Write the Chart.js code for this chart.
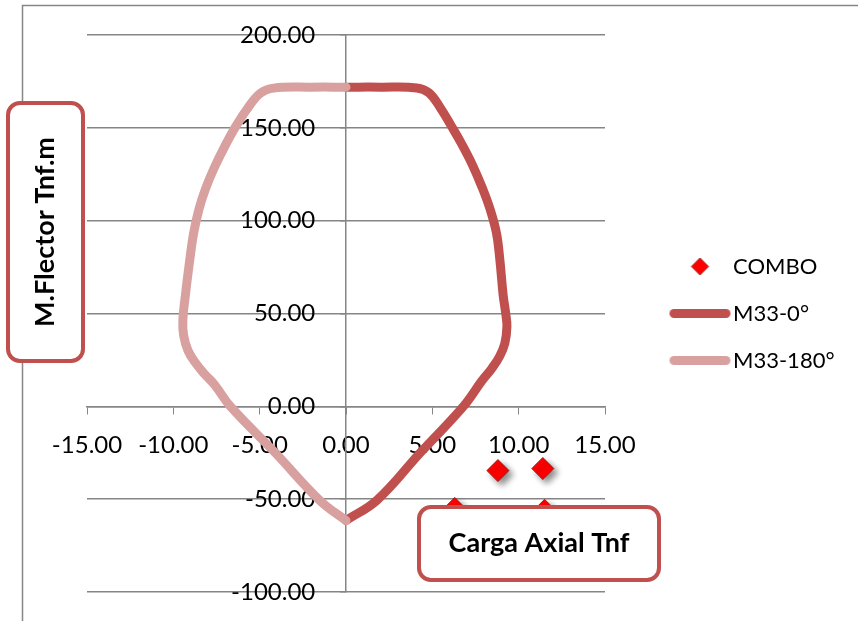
<!DOCTYPE html>
<html>
<head>
<meta charset="utf-8">
<script src="https://cdn.jsdelivr.net/npm/chart.js@4.4.1/dist/chart.umd.min.js"></script>
<style>
  html, body { margin: 0; padding: 0; background: #fff; }
  canvas { display: block; }
</style>
</head>
<body>
<canvas id="pm-chart" width="858" height="621"></canvas>
<script>
// axis ticks
var xTickValues = [-15, -10, -5, 0, 5, 10, 15];
var yTickValues = [-100, -50, 0, 50, 100, 150, 200];

// load combinations (axial, moment)
var comboAxial = [8.8, 11.4, 6.3, 11.5];
var comboMoment = [-34.6, -33.5, -55, -56];

// interaction curve M33-0°
var m0Axial = [0, 2, 4.1, 4.8, 5.45, 6.1, 6.72, 7.3, 7.88, 8.35, 8.72, 8.92, 9.1, 9.25, 9.32, 9.2, 8.9, 8.45, 7.85, 6.8, 4.3, 1.8, 0];
var m0Moment = [171.9, 171.9, 171.5, 168.9, 161, 151, 141, 130.5, 118, 106, 93, 78, 60, 50, 43, 34, 27, 20.5, 13.5, 0, -25, -50.5, -61.5];

// interaction curve M33-180°
var m180Axial = [0, -2, -4.19, -4.96, -5.7, -6.4, -7.05, -7.63, -8.13, -8.52, -8.83, -9.06, -9.3, -9.45, -9.4, -9.15, -8.73, -8.2, -7.6, -6.7, -4.1, -1.5, 0];
var m180Moment = [171.9, 171.9, 171.4, 168.6, 160.5, 150.5, 139.5, 128.5, 117.3, 106, 93, 78, 60, 46, 38, 30, 23.6, 17.5, 11.5, 0, -25, -50.8, -61.5];

var seriesNames = ['COMBO', 'M33-0°', 'M33-180°'];
var seriesColors = ['#FF0000', '#C0504D', '#D8A1A0'];

var FONT = 'Lato';
var FONT_SIZE = 22;
var TICK_SIZE = 24;
var AXIS_GREY = '#868686';

function toPoints(xs, ys) {
    var pts = [];
    for (var i = 0; i < xs.length; i++) {
        pts.push({ x: xs[i], y: ys[i] });
    }
    return pts;
}

// legend markers, drawn a bit right of the box centre
function makeMarker(kind, color) {
    var c = document.createElement('canvas');
    c.width = 121;
    c.height = 25;
    var g = c.getContext('2d');
    var cx = 60.5 + 24, cy = 12.5;
    if (kind === 'diamond') {
        g.beginPath();
        g.moveTo(cx, cy - 8.5);
        g.lineTo(cx + 8.5, cy);
        g.lineTo(cx, cy + 8.5);
        g.lineTo(cx - 8.5, cy);
        g.closePath();
        g.fillStyle = color;
        g.fill();
        g.strokeStyle = '#A01818';
        g.lineWidth = 1;
        g.stroke();
    } else {
        g.beginPath();
        g.moveTo(cx - 26, cy);
        g.lineTo(cx + 26, cy);
        g.strokeStyle = color;
        g.lineWidth = 9;
        g.lineCap = 'round';
        g.stroke();
    }
    return c;
}

var legendMarkers = [
    makeMarker('diamond', seriesColors[0]),
    makeMarker('line', seriesColors[1]),
    makeMarker('line', seriesColors[2])
];

// right padding so the plot ends at x = 605
var mctx = document.createElement('canvas').getContext('2d');
mctx.font = 'normal ' + FONT_SIZE + 'px ' + FONT;
var maxText = 0;
seriesNames.forEach(function (t) { maxText = Math.max(maxText, mctx.measureText(t).width); });
var legendWidth = 25 + 92 + FONT_SIZE / 2 + maxText + 10;
var padRight = Math.max(0, 858 - 605 - legendWidth);

function roundBox(ctx, x, y, w, h, r) {
    ctx.beginPath();
    ctx.moveTo(x + r, y);
    ctx.lineTo(x + w - r, y);
    ctx.arcTo(x + w, y, x + w, y + r, r);
    ctx.lineTo(x + w, y + h - r);
    ctx.arcTo(x + w, y + h, x + w - r, y + h, r);
    ctx.lineTo(x + r, y + h);
    ctx.arcTo(x, y + h, x, y + h - r, r);
    ctx.lineTo(x, y + r);
    ctx.arcTo(x, y, x + r, y, r);
    ctx.closePath();
}

function drawTitleBox(ctx, x, y, w, h, text, vertical) {
    ctx.save();
    roundBox(ctx, x, y, w, h, 12);
    ctx.fillStyle = '#fff';
    ctx.fill();
    ctx.strokeStyle = '#C0504D';
    ctx.lineWidth = 4;
    ctx.stroke();
    ctx.fillStyle = '#000';
    ctx.font = 'bold 27px ' + FONT;
    ctx.textAlign = 'center';
    ctx.textBaseline = 'middle';
    ctx.translate(x + w / 2, y + h / 2);
    if (vertical) {
        ctx.rotate(-Math.PI / 2);
    }
    ctx.fillText(text, 0, 0);
    ctx.restore();
}

var chartFrame = {
    id: 'chartFrame',
    beforeDraw: function (chart) {
        var ctx = chart.ctx;
        ctx.save();
        ctx.strokeStyle = AXIS_GREY;
        ctx.lineWidth = 1.5;
        ctx.strokeRect(22.5, 5.5, 900, 700);
        ctx.restore();
    }
};

var markerShadow = {
    id: 'markerShadow',
    beforeDatasetDraw: function (chart, args) {
        if (args.index !== 0) return;
        var ctx = chart.ctx;
        ctx.save();
        ctx.shadowColor = 'rgba(0,0,0,0.45)';
        ctx.shadowBlur = 6;
        ctx.shadowOffsetX = 4;
        ctx.shadowOffsetY = 4;
    },
    afterDatasetDraw: function (chart, args) {
        if (args.index === 0) chart.ctx.restore();
    }
};

var titleBoxes = {
    id: 'titleBoxes',
    afterDraw: function (chart) {
        var ctx = chart.ctx;
        drawTitleBox(ctx, 8, 103, 75, 258, 'M.Flector Tnf.m', true);
        drawTitleBox(ctx, 419, 507, 240, 73, 'Carga Axial Tnf', false);
    }
};

Chart.defaults.font.family = FONT;
Chart.defaults.font.size = FONT_SIZE;
Chart.defaults.color = '#000';

var PMChart = new Chart(document.getElementById('pm-chart'), {
    type: 'scatter',
    data: {
        datasets: [{
            label: seriesNames[0],
            data: toPoints(comboAxial, comboMoment),
            pointStyle: 'rectRot',
            pointRadius: 11,
            pointBackgroundColor: seriesColors[0],
            pointBorderColor: '#A01818',
            pointBorderWidth: 1,
            showLine: false,
            order: 0
        }, {
            label: seriesNames[1],
            data: toPoints(m0Axial, m0Moment),
            showLine: true,
            borderColor: seriesColors[1],
            borderWidth: 9,
            borderCapStyle: 'round',
            borderJoinStyle: 'round',
            tension: 0.4,
            pointRadius: 0,
            order: 2
        }, {
            label: seriesNames[2],
            data: toPoints(m180Axial, m180Moment),
            showLine: true,
            borderColor: seriesColors[2],
            borderWidth: 9,
            borderCapStyle: 'round',
            borderJoinStyle: 'round',
            tension: 0.4,
            pointRadius: 0,
            order: 1
        }]
    },
    plugins: [chartFrame, markerShadow, titleBoxes],
    options: {
        responsive: false,
        animation: false,
        devicePixelRatio: 1,
        layout: {
            padding: { left: 87, top: 35, bottom: 29, right: padRight }
        },
        plugins: {
            tooltip: { enabled: false },
            legend: {
                position: 'right',
                maxWidth: 400,
                labels: {
                    usePointStyle: true,
                    pointStyleWidth: 92,
                    padding: 25,
                    color: '#000',
                    font: { size: FONT_SIZE },
                    generateLabels: function (chart) {
                        return seriesNames.map(function (name, i) {
                            return {
                                text: name,
                                pointStyle: legendMarkers[i],
                                datasetIndex: i,
                                hidden: false,
                                lineWidth: 0,
                                fontColor: '#000'
                            };
                        });
                    }
                }
            }
        },
        scales: {
            x: {
                type: 'linear',
                position: { y: 0 },
                min: -15,
                max: 15,
                afterBuildTicks: function (scale) {
                    scale.ticks = xTickValues.map(function (v) { return { value: v }; });
                },
                ticks: {
                    padding: 18,
                    maxRotation: 0,
                    font: { size: TICK_SIZE },
                    callback: function (v) { return Number(v).toFixed(2); }
                },
                grid: {
                    drawOnChartArea: false,
                    drawTicks: true,
                    tickLength: 7,
                    color: AXIS_GREY
                },
                border: { display: true, color: AXIS_GREY, width: 1.5 }
            },
            y: {
                type: 'linear',
                position: { x: 0 },
                min: -100,
                max: 200,
                afterBuildTicks: function (scale) {
                    scale.ticks = yTickValues.map(function (v) { return { value: v }; });
                },
                ticks: {
                    font: { size: TICK_SIZE },
                    // labels sit a little left of the axis line
                    callback: function (v) { return Number(v).toFixed(2) + '     '; }
                },
                grid: {
                    drawOnChartArea: true,
                    drawTicks: true,
                    tickLength: 5,
                    color: AXIS_GREY,
                    lineWidth: 1.5
                },
                border: { display: true, color: AXIS_GREY, width: 1.5 }
            }
        }
    }
});
</script>
</body>
</html>
